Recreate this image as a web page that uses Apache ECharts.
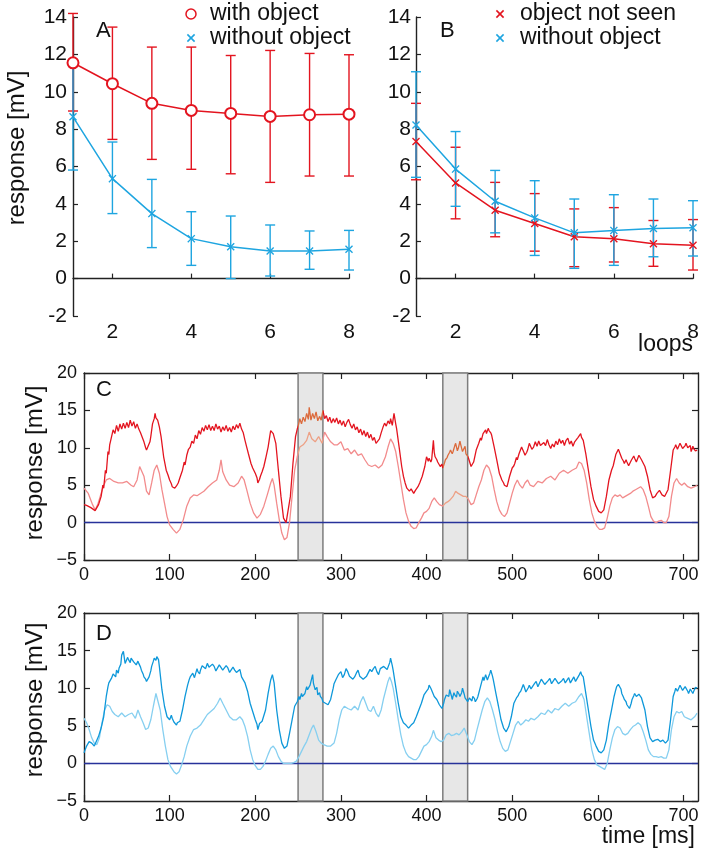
<!DOCTYPE html>
<html><head><meta charset="utf-8">
<script src="https://cdn.jsdelivr.net/npm/echarts@6/dist/echarts.min.js"></script>
<style>html,body{margin:0;padding:0;background:#fff}#c{width:702px;height:853px}</style>
</head><body><div id="c"></div>
<script>
// ---------- Panel A ----------
const loops = [1, 2, 3, 4, 5, 6, 7, 8];
const aWithMean = [11.55, 10.43, 9.38, 9.0, 8.84, 8.68, 8.77, 8.8];
const aWithLo   = [8.97, 7.45, 6.38, 5.85, 5.61, 5.15, 5.49, 5.49];
const aWithHi   = [14.19, 13.46, 12.39, 12.39, 11.94, 12.21, 12.05, 11.98];
const aWithoutMean = [8.66, 5.35, 3.48, 2.14, 1.71, 1.48, 1.48, 1.57];
const aWithoutLo   = [5.81, 3.48, 1.66, 0.71, 0.0, 0.14, 0.5, 0.46];
const aWithoutHi   = [11.55, 7.31, 5.31, 3.58, 3.35, 2.87, 2.55, 2.58];
// ---------- Panel B ----------
const bNotSeenMean = [7.34, 5.12, 3.66, 2.95, 2.24, 2.13, 1.87, 1.79];
const bNotSeenLo   = [5.29, 3.2, 2.24, 1.47, 0.64, 0.89, 0.66, 0.46];
const bNotSeenHi   = [9.38, 7.03, 5.15, 4.55, 3.73, 3.8, 3.11, 3.16];
const bWithoutMean = [8.22, 5.86, 4.14, 3.25, 2.45, 2.58, 2.68, 2.72];
const bWithoutLo   = [5.42, 3.87, 2.45, 1.24, 0.55, 0.71, 1.17, 1.21];
const bWithoutHi   = [11.07, 7.87, 5.79, 5.24, 4.26, 4.49, 4.26, 4.17];
const abXTicks = [2, 4, 6, 8];
// ---------- Panels C, D (time ms, response mV) ----------
const timeTicks = [0, 100, 200, 300, 400, 500, 600, 700];
const shadeWindows = [[250, 279], [419, 448]];
const cDark = [[0,2.4],[3,2.3],[5,2.1],[8,2.0],[10,1.8],[13,1.6],[15,1.8],[17,2.4],[20,3.5],[22,5],[23,4.6],[25,7],[26,6.6],[28,9.5],[29,9.1],[30,10.4],[32,11.4],[34,12.4],[36,11.9],[38,13.0],[40,12.2],[42,13.2],[44,12.5],[46,13.3],[48,12.6],[50,13.4],[52,12.7],[54,13.7],[56,12.9],[58,13.5],[60,12.6],[62,13.2],[64,12.5],[66,12.0],[68,11.4],[70,10.8],[72,10.0],[73,9.7],[75,9.9],[77,10.8],[78,11.5],[80,13.2],[82,13.9],[83,14.6],[84,14.0],[86,13.7],[88,12.8],[90,11.5],[93,8.8],[96,7],[98,6.4],[100,5.7],[102,5.2],[103,4.8],[105,5.0],[106,4.6],[108,4.9],[110,5.3],[112,6.0],[115,7],[117,8.1],[118,7.7],[120,9],[122,9.8],[124,10.1],[126,10.9],[128,10.6],[130,11.7],[132,11.2],[134,12.3],[136,11.8],[138,12.7],[140,12.2],[142,13.0],[144,12.4],[146,13.1],[148,12.3],[150,12.9],[152,12.3],[154,13.2],[156,12.5],[158,12.9],[160,12.1],[162,12.8],[164,12.3],[166,13.0],[168,12.2],[170,12.7],[172,12.1],[174,12.9],[176,12.4],[178,13.1],[180,12.6],[182,13.3],[184,12.5],[186,12.0],[188,11.0],[190,10.1],[192,9.2],[195,7.9],[197,7.3],[200,6.6],[202,6.0],[203,5.3],[205,5.8],[206,6.2],[208,6.8],[210,7.5],[212,8.5],[215,10.1],[217,11.6],[218,12.3],[220,12.2],[221,11.9],[224,10.6],[227,7],[230,3.5],[233,0.6],[236,0],[238,0.2],[241,3.5],[244,7.9],[247,11.5],[249,12.5],[250,12.8],[252,13.9],[254,13.2],[256,14.1],[258,13.5],[260,14.6],[262,13.8],[263,15.4],[265,13.7],[267,14.6],[269,13.9],[271,14.8],[273,13.6],[275,14.2],[277,13.7],[279,15],[281,13.9],[283,14.3],[285,13.5],[287,14.1],[289,13.3],[291,13.9],[293,13.4],[295,14.0],[297,13.2],[299,13.7],[301,13.0],[303,13.6],[305,12.8],[307,13.4],[309,13.8],[311,13.1],[313,12.6],[315,13.2],[317,12.4],[319,12.8],[321,12.0],[323,12.5],[325,11.7],[327,12.3],[329,11.5],[331,12.1],[333,11.3],[335,11.8],[337,11.0],[339,11.4],[341,10.6],[343,10.4],[345,11.2],[347,12.0],[349,12.7],[351,13.3],[353,12.9],[355,13.6],[357,13.2],[358,13.9],[360,13],[362,14.6],[364,13.2],[365,12.6],[368,10.1],[371,7.5],[373,6.2],[375,5.3],[377,4.6],[380,4.2],[382,4.5],[385,3.9],[387,4.3],[390,4.8],[392,5.3],[395,6.2],[398,7.5],[400,8.8],[402,8.2],[403,8.6],[405,8.1],[406,8.4],[408,11],[409,9.4],[410,8.8],[412,8.4],[413,8.1],[416,7.5],[418,7.8],[419,7.3],[421,8.0],[422,8.4],[424,8.7],[425,9],[427,9.4],[428,9.7],[430,9.2],[431,9.5],[433,10.3],[434,10.6],[436,9.6],[437,9.9],[439,10.9],[440,10.4],[442,9.5],[443,9.7],[445,10.2],[446,9.2],[448,8.9],[449,8.6],[452,7.5],[455,8.1],[458,9.7],[460,10.3],[461,10.6],[463,11.3],[464,11],[466,11.9],[467,11.7],[469,12.4],[470,11.9],[472,12.6],[473,12.3],[475,12.0],[476,11.7],[479,10.1],[482,8.4],[485,6.6],[488,5.7],[490,5.3],[491,5],[493,5.1],[494,4.8],[497,6.2],[500,7.3],[502,7.6],[503,7.9],[505,8.7],[506,8.4],[508,9.2],[509,9.5],[511,10.1],[512,9.9],[514,9.3],[515,9],[517,9.4],[518,9.7],[520,10.6],[521,10.4],[523,9.8],[525,10.1],[527,10.8],[529,10.2],[531,10.9],[533,10.3],[535,10.1],[537,10.7],[539,10.3],[541,11.1],[543,10.4],[545,9.9],[547,10.5],[549,10.1],[551,10.9],[553,10.4],[555,11.2],[557,10.6],[559,11.0],[561,10.3],[563,11.0],[565,11.3],[567,10.5],[569,10.9],[571,10.2],[573,10.8],[575,11.1],[577,11.4],[579,11.6],[580,11.9],[581,11.4],[583,11],[586,9.2],[589,7],[592,4.8],[595,3.1],[598,2.2],[601,1.5],[604,1.3],[607,1.7],[610,3.5],[613,5.7],[616,7],[618,7.6],[619,8.1],[621,9.1],[622,9],[624,9.8],[625,9.5],[627,8.9],[628,8.6],[630,8.2],[631,7.9],[633,8.4],[634,8.1],[636,7.6],[637,7.7],[639,8.3],[640,8.4],[642,8.9],[643,8.6],[645,8.1],[646,8.4],[648,9.0],[649,8.8],[651,8.4],[652,8.6],[655,7.5],[658,6.2],[661,4.4],[664,3.3],[667,3.5],[669,3.9],[670,3.9],[672,4.3],[673,4.2],[675,3.7],[676,3.9],[678,3.5],[679,3.7],[682,4.4],[685,7],[688,9.7],[690,10.1],[691,10.4],[693,9.8],[694,9.9],[696,10.6],[697,10.4],[699,9.9],[700,9.7],[702,10.3],[703,10.6],[705,10.0],[706,9.9],[708,10.3],[709,9.5],[711,10.2],[712,9.9],[714,9.6],[716,9.7]];
const cLight = [[0,4.6],[5,3.9],[10,2.4],[13,1.7],[16,2.4],[20,3.9],[23,5],[26,5.7],[30,5.9],[35,5.5],[40,5.3],[45,5.3],[50,5.5],[55,5],[58,4.8],[62,5.7],[65,7.5],[67,7.7],[70,6.2],[73,4.2],[76,3.7],[79,5.3],[82,7],[85,7.7],[88,6.6],[91,4.4],[94,2.6],[97,0.8],[100,-0.3],[104,-0.9],[108,-1.4],[112,-0.9],[116,0.4],[120,2.2],[124,3.3],[128,3.7],[132,3.6],[136,3.9],[140,4.2],[145,4.8],[150,5.3],[155,5.7],[158,7],[160,8.4],[162,6.8],[166,5.7],[170,5],[175,4.8],[180,5.3],[184,6.2],[187,5.7],[190,4.4],[194,2.6],[198,1.3],[202,0.6],[206,1.1],[210,2.2],[214,3.7],[218,5.3],[220,5.9],[222,5],[225,2.6],[228,0.4],[231,-1.4],[234,-2.3],[237,-2],[240,0],[243,3.5],[246,7],[249,8.8],[252,10.1],[256,10.4],[260,11],[263,12.1],[266,11.2],[270,10.8],[274,11.5],[278,10.6],[281,12.1],[284,11.5],[288,10.8],[292,10.4],[296,10.4],[300,10.8],[304,9.7],[308,9.9],[312,9.2],[316,9.7],[320,9],[324,9.2],[328,8.4],[332,7.7],[336,7.5],[340,7.7],[344,7.3],[348,7.7],[352,8.8],[355,10.1],[358,11.2],[361,10.6],[364,9.5],[367,7.5],[370,5.3],[373,3.1],[376,1.3],[379,0.2],[382,-0.5],[385,-0.8],[388,-0.7],[391,0],[394,0.6],[397,1.3],[400,1.5],[403,1.9],[406,2.8],[409,3.3],[412,2.8],[415,2.4],[419,2.2],[422,2.6],[425,2.8],[428,3.1],[431,3.5],[434,4.2],[437,3.9],[440,3.7],[443,3.5],[446,3.5],[449,3.1],[452,2.4],[455,2.6],[458,3.7],[461,4.8],[464,5.7],[467,7],[470,7.7],[473,7.3],[476,6.2],[479,4.4],[482,2.8],[485,1.7],[488,1.1],[491,0.8],[494,1.3],[497,2.6],[500,3.9],[503,5],[506,5.7],[509,5],[512,4.6],[515,5.3],[518,5.7],[521,5],[525,4.8],[530,5.5],[535,5.3],[540,5.9],[545,6.2],[550,5.7],[555,6.6],[560,7],[565,6.6],[570,7],[575,7.3],[578,8.1],[581,7.9],[584,7],[587,5.3],[590,3.1],[593,1.3],[596,0.2],[599,-0.5],[602,-0.9],[605,-0.9],[608,-0.7],[611,0.6],[614,2.2],[617,3.3],[620,3.7],[623,3.5],[626,3.7],[629,3.3],[632,3.5],[635,3.7],[638,3.9],[641,4.2],[644,4.4],[647,4.6],[650,4.8],[653,4.4],[656,3.5],[659,2.2],[662,0.8],[665,0.2],[668,0],[671,0.2],[674,0.3],[677,0],[680,0],[683,0.8],[686,3.5],[689,5.3],[692,5.9],[695,5.3],[698,5],[701,5.3],[705,4.8],[709,4.6],[713,4.8],[716,5]];
const dDark = [[0,1.4],[3,2.3],[6,2.9],[9,2.7],[12,2.3],[14,2.2],[17,3.6],[20,4.7],[23,6.2],[26,8.9],[28,10.2],[29,10.7],[31,10.9],[32,11.3],[34,11.9],[35,11.8],[37,11.5],[38,12.4],[40,12.0],[41,12.7],[43,13.2],[44,14.4],[46,14.9],[48,13.3],[49,13.1],[51,14.1],[52,13.8],[54,13.4],[55,14],[57,14.2],[58,13.5],[60,13.7],[61,13.1],[63,13.6],[64,13.3],[66,12.8],[67,12.4],[69,11.9],[70,11.5],[72,11.2],[73,10.9],[75,11.1],[76,11.5],[78,12.3],[79,12.9],[81,13.6],[82,14],[84,13.7],[85,14.2],[87,13.8],[88,12.9],[91,9.8],[94,7.6],[97,6.2],[99,6.1],[100,5.8],[102,6.4],[103,6],[105,5.5],[106,5.6],[108,5.1],[109,5.4],[111,5.2],[112,5.6],[115,7.1],[118,8.9],[120,9.9],[121,10.4],[123,11.2],[124,11.5],[126,11.6],[127,12],[129,11.4],[130,11.8],[132,12.6],[133,12.2],[135,11.9],[136,12.4],[138,13.0],[140,13.1],[142,12.6],[144,13.3],[146,12.8],[148,12.7],[150,13.2],[152,12.9],[154,12.3],[156,12.4],[158,13.1],[160,12.9],[162,12.4],[164,12.4],[166,13.0],[168,12.7],[170,12.1],[172,12.2],[174,12.8],[176,12.4],[178,12.1],[180,12],[182,12.5],[184,11.5],[186,11.3],[188,10.7],[191,9.6],[194,8],[197,6.9],[200,5.8],[202,5.2],[203,4.5],[205,5.3],[206,5.1],[208,5.6],[209,5.8],[212,7.1],[215,9.3],[218,11.1],[220,11.8],[222,10.7],[225,7.1],[228,4.5],[231,2.7],[234,2],[237,2.3],[240,4],[243,5.8],[246,7.6],[249,8.2],[251,8.9],[252,8.5],[254,9.3],[255,8.9],[257,9.0],[258,9.3],[260,10.2],[261,9.8],[263,9.6],[264,10.4],[266,10.3],[267,11.8],[268,10.6],[270,9.8],[272,10.1],[273,9.1],[275,9.4],[276,8.9],[278,8.6],[279,8.2],[281,8.4],[282,8],[284,8.2],[285,7.8],[288,8.5],[291,10],[292,10.6],[294,11.1],[296,11.3],[297,11.8],[299,11.6],[300,12.2],[302,11.4],[304,11.8],[306,12.6],[308,12.2],[310,11.6],[312,11.8],[314,11.2],[316,11.5],[318,12.0],[320,12.4],[322,11.6],[324,11.8],[326,11.2],[328,11.1],[330,11.6],[332,11.8],[334,12.5],[336,12.2],[338,12.6],[340,12.9],[342,12.2],[344,11.8],[346,12.6],[348,12.4],[350,12.9],[352,12.9],[354,12.5],[355,12.7],[357,13.4],[358,14],[360,13.0],[361,12.4],[364,10.2],[367,8],[370,6.2],[373,5.4],[376,5.1],[379,4.7],[382,5.1],[385,5.4],[388,6.2],[391,7.1],[394,8],[397,9.1],[400,9.6],[402,9.9],[403,10.4],[405,10.0],[406,9.8],[409,8.9],[412,8.5],[415,7.8],[418,7.3],[420,8.0],[421,8.5],[423,9.1],[424,9.3],[426,8.9],[427,9.8],[429,9.0],[430,8.5],[432,9.4],[433,9.1],[435,8.8],[436,9.6],[438,9.2],[439,8.9],[441,9.4],[442,10],[444,9.2],[445,8.7],[447,8.9],[448,8.2],[450,8.7],[451,8.5],[453,8.3],[454,8.9],[456,8.6],[457,8.2],[459,8.6],[460,8.9],[463,10.2],[466,11.5],[467,11.0],[469,11.8],[471,11.1],[472,11.3],[474,12.0],[475,12.4],[477,11.6],[478,11.1],[481,9.3],[484,7.6],[487,5.8],[490,4.7],[493,4.2],[496,4.9],[499,6.2],[502,8],[505,8.7],[507,9.0],[508,9.3],[510,9.6],[511,9.8],[513,10.5],[514,10.2],[516,9.5],[517,9.6],[519,10.1],[520,10.4],[522,9.9],[524,10],[526,10.6],[528,10.9],[530,10.2],[532,10.4],[534,11.2],[536,11.1],[538,10.5],[540,10.4],[542,11.0],[544,11.3],[546,10.6],[548,10.7],[550,11.3],[552,11.1],[554,10.6],[556,10.4],[558,11.0],[560,11.3],[562,10.7],[564,10.9],[566,11.4],[568,10.7],[570,11.1],[572,11.5],[574,10.9],[576,11.1],[578,11.7],[580,12.2],[581,11.8],[583,11.5],[586,9.3],[589,7.1],[592,4.9],[595,3.1],[598,2.3],[601,1.6],[604,1.4],[607,1.8],[610,3.1],[613,5.4],[616,7.1],[619,8.9],[621,9.8],[622,10.2],[624,10.5],[625,10.7],[627,9.9],[628,9.3],[630,8.8],[631,8.5],[633,8.2],[634,7.8],[636,7.6],[637,7.3],[639,8.0],[640,8.5],[642,9.0],[643,9.3],[645,8.9],[646,8.7],[648,9.2],[649,9.1],[651,8.7],[652,8.9],[655,7.1],[658,4.9],[661,3.4],[664,2.9],[667,3.1],[670,3.2],[673,2.9],[676,3.1],[679,2.7],[682,3.1],[685,5.8],[688,8.9],[690,9.6],[691,10],[693,9.6],[694,9.8],[696,10.4],[697,10.2],[699,9.7],[700,9.6],[702,10.2],[703,10],[705,9.6],[706,9.3],[708,9.9],[709,9.8],[711,9.3],[712,9.6],[714,10.1],[716,10]];
const dLight = [[0,6],[3,5.4],[6,4.5],[9,3.4],[12,2.7],[15,2.5],[18,3.4],[21,5.4],[24,7.1],[27,7.8],[30,7.6],[33,6.9],[36,6.5],[40,6.2],[44,6.7],[48,6.2],[52,6.5],[56,6.7],[60,6],[63,7.1],[66,6.2],[69,5.4],[72,4.5],[75,4.7],[78,5.8],[81,7.6],[84,9.3],[86,9.1],[89,7.1],[92,4.5],[95,2.3],[98,0.5],[101,-0.4],[105,-1.1],[108,-1.4],[111,-1.1],[114,-0.2],[117,0.9],[120,2.3],[124,3.6],[128,4.5],[132,4.7],[136,5.1],[140,5.8],[144,6.5],[148,6.9],[152,7.3],[156,8],[159,8.7],[162,8],[166,7.1],[170,6.2],[174,5.8],[178,5.8],[182,6.2],[185,5.8],[188,4.9],[191,3.6],[194,1.8],[197,0.5],[200,-0.3],[203,-0.8],[206,-0.8],[209,-0.4],[212,0.3],[215,1.2],[218,2],[221,2.3],[224,1.8],[227,0.9],[230,0.3],[233,0],[236,0],[239,0],[242,0],[245,0.1],[248,0.3],[251,0.9],[254,1.6],[257,2.3],[260,2.9],[263,3.8],[266,4.7],[268,5.1],[271,4.2],[274,3.1],[277,2.7],[280,2.5],[284,2.3],[288,2.3],[292,2.7],[295,4],[298,5.8],[301,7.1],[304,7.6],[308,7.3],[312,7.1],[316,7.6],[320,7.1],[323,8.2],[326,8.9],[329,8],[332,7.1],[335,6.9],[338,7.6],[341,6.7],[344,6.2],[347,7.1],[350,8.7],[355,10.9],[357,11.5],[359,10.9],[361,10],[364,8],[367,5.8],[370,3.8],[373,2.3],[376,1.4],[379,0.9],[382,0.7],[385,0.5],[388,0.5],[391,0.9],[394,1.6],[397,2.3],[400,2.5],[403,2.9],[406,3.6],[408,4.4],[411,3.4],[414,3.1],[417,2.9],[420,3.1],[423,3.8],[426,4],[429,3.7],[432,3.8],[435,4],[438,3.8],[441,4.2],[444,4.7],[447,3.8],[450,2.9],[453,2.5],[456,3.1],[459,4.5],[462,5.8],[465,7.1],[468,8.2],[471,8.7],[474,8.2],[477,7.1],[480,5.8],[483,4.2],[486,2.9],[489,2],[492,1.6],[495,1.8],[498,2.9],[501,4],[504,5.1],[507,5.6],[510,5.1],[513,5.4],[516,5.8],[519,5.6],[522,6],[526,5.8],[530,6.2],[534,6.7],[538,6.5],[542,7.1],[546,6.7],[550,7.3],[554,7.1],[558,7.6],[562,8],[566,7.6],[570,8],[574,8.2],[578,8.9],[581,9.3],[584,8.5],[587,6.2],[590,4],[593,1.8],[596,0.5],[599,-0.2],[602,-0.4],[605,-0.6],[608,-0.8],[611,0],[614,1.8],[617,3.4],[620,4.5],[623,4.9],[626,4.7],[629,4],[632,3.8],[635,4],[638,4.5],[641,4.9],[644,5.1],[647,5.4],[650,5.1],[653,4.2],[656,3.1],[659,1.8],[662,1.2],[665,0.9],[668,0.9],[671,0.8],[674,0.9],[677,0.7],[680,0.7],[683,1.8],[686,4.5],[689,6.2],[692,6.9],[695,6.7],[698,6.9],[701,6.2],[705,6],[709,5.8],[713,6.2],[716,6.7]];
const timeMax = 717;

// ---------- styling ----------
const RED = '#e3141f', CYAN = '#1ea5e0';
const LRED = '#f28b8c', ORANGE = '#dc6a3c', LORANGE = '#eda085';
const DBLUE = '#0e98da', LBLUE = '#86cff0', NAVY = '#27329a';
const FONT = '"Liberation Sans", Arial, sans-serif';
const AX = '#222';
const CROSS = 'path://M0,1.2L1.2,0L5,3.8L8.8,0L10,1.2L6.2,5L10,8.8L8.8,10L5,6.2L1.2,10L0,8.8L3.8,5Z';

function errRender(color) {
  return function (params, api) {
    const x = api.value(0), lo = api.value(1), hi = api.value(2);
    const a = api.coord([x, lo]), b = api.coord([x, hi]);
    const w = 5, st = { stroke: color, lineWidth: 1.4 };
    return { type: 'group', children: [
      { type: 'line', shape: { x1: a[0], y1: a[1], x2: b[0], y2: b[1] }, style: st },
      { type: 'line', shape: { x1: a[0] - w, y1: a[1], x2: a[0] + w, y2: a[1] }, style: st },
      { type: 'line', shape: { x1: b[0] - w, y1: b[1], x2: b[0] + w, y2: b[1] }, style: st }
    ]};
  };
}
function errSeries(lo, hi, color, axis, z) {
  return { type: 'custom', xAxisIndex: axis, yAxisIndex: axis, z: z, clip: false,
    renderItem: errRender(color), encode: { x: 0, y: [1, 2] },
    data: loops.map((x, i) => [x, lo[i], hi[i]]) };
}
function meanSeries(name, mean, color, symbol, size, axis, z) {
  const circ = symbol === 'emptyCircle';
  return { type: 'line', name: name, xAxisIndex: axis, yAxisIndex: axis, z: z,
    data: loops.map((x, i) => [x, mean[i]]), symbol: symbol, symbolSize: size, showAllSymbol: true,
    lineStyle: { color: color, width: 1.5 },
    itemStyle: { color: color, borderColor: color, borderWidth: circ ? 1.5 : 0 },
    emphasis: { disabled: true }, animation: false };
}
function abXAxis(grid) {
  return { type: 'value', gridIndex: grid, min: 1, max: 8,
    axisLine: { lineStyle: { color: AX, width: 1.4 } },
    axisTick: { inside: true, length: 5, customValues: abXTicks, lineStyle: { color: AX, width: 1.2 } },
    axisLabel: { customValues: abXTicks, fontSize: 21, fontFamily: FONT, color: '#111', margin: 6 },
    splitLine: { show: false } };
}
function abYAxis(grid, margin) {
  return { type: 'value', gridIndex: grid, min: -2, max: 14, interval: 2,
    axisLine: { show: true, lineStyle: { color: AX, width: 1.4 } },
    axisTick: { show: true, inside: true, length: 5, lineStyle: { color: AX, width: 1.2 } },
    axisLabel: { fontSize: 21, fontFamily: FONT, color: '#111', margin: margin },
    splitLine: { show: false } };
}
function tXAxis(grid, pos, labels) {
  return { type: 'value', gridIndex: grid, position: pos, min: 0, max: timeMax,
    axisLine: { show: true, onZero: false, lineStyle: { color: AX, width: 1.4 } },
    axisTick: { show: true, inside: true, length: 6, customValues: timeTicks, lineStyle: { color: AX, width: 1.2 } },
    axisLabel: { show: labels, customValues: timeTicks, fontSize: 18, fontFamily: FONT, color: '#111', margin: 6 },
    splitLine: { show: false } };
}
function tYAxis(grid, pos, labels) {
  return { type: 'value', gridIndex: grid, position: pos, min: -5, max: 20, interval: 5,
    axisLine: { show: true, onZero: false, lineStyle: { color: AX, width: 1.4 } },
    axisTick: { show: true, inside: true, length: 6, lineStyle: { color: AX, width: 1.2 } },
    axisLabel: { show: labels, fontSize: 18, fontFamily: FONT, color: '#111', margin: 7,
      formatter: v => v < 0 ? '\u2212' + Math.abs(v) : String(v) },
    splitLine: { show: false } };
}
function baseSeries(axisX, axisY) {
  return { type: 'line', xAxisIndex: axisX, yAxisIndex: axisY, z: 2, symbol: 'none',
    data: [[0, 0], [timeMax, 0]], lineStyle: { color: NAVY, width: 1.5 }, silent: true,
    markArea: { silent: true, z: 1,
      itemStyle: { color: '#e7e7e7', borderColor: '#7d7d7d', borderWidth: 1.5 },
      data: shadeWindows.map(w => [{ xAxis: w[0] }, { xAxis: w[1] }]) } };
}
function traceSeries(data, color, width, axisX, axisY, z) {
  const ls = { width: width };
  if (color) ls.color = color;
  return { type: 'line', xAxisIndex: axisX, yAxisIndex: axisY, z: z, symbol: 'none', data: data,
    lineStyle: ls, silent: true, animation: false };
}

const chart = echarts.init(document.getElementById('c'), null, { renderer: 'canvas' });
const series = [
  errSeries(aWithLo, aWithHi, RED, 0, 3),
  errSeries(aWithoutLo, aWithoutHi, CYAN, 0, 3),
  meanSeries('with object', aWithMean, RED, 'emptyCircle', 11, 0, 4),
  meanSeries('without object', aWithoutMean, CYAN, CROSS, 8, 0, 4),
  errSeries(bNotSeenLo, bNotSeenHi, RED, 1, 3),
  errSeries(bWithoutLo, bWithoutHi, CYAN, 1, 3),
  meanSeries('object not seen', bNotSeenMean, RED, CROSS, 8, 1, 4),
  meanSeries('without object', bWithoutMean, CYAN, CROSS, 8, 1, 4),
  baseSeries(2, 2),                              // 8
  traceSeries(cDark, null, 1.3, 2, 2, 4),        // 9  (coloured by visualMap)
  traceSeries(cLight, null, 1.3, 2, 2, 3),       // 10 (coloured by visualMap)
  baseSeries(4, 4),                              // 11
  traceSeries(dDark, DBLUE, 1.3, 4, 4, 4),       // 12
  traceSeries(dLight, LBLUE, 1.3, 4, 4, 3)       // 13
];

function txt(x, y, text, size, align, rot) {
  return { type: 'text', x: x, y: y, rotation: rot || 0, silent: true,
    style: { text: text, fontSize: size, fontFamily: FONT, fill: '#111', align: align || 'left', verticalAlign: 'middle' } };
}
function crossG(cx, cy, color) {
  const r = 3.6;
  return [
    { type: 'line', silent: true, shape: { x1: cx - r, y1: cy - r, x2: cx + r, y2: cy + r }, style: { stroke: color, lineWidth: 1.6 } },
    { type: 'line', silent: true, shape: { x1: cx - r, y1: cy + r, x2: cx + r, y2: cy - r }, style: { stroke: color, lineWidth: 1.6 } }
  ];
}

chart.setOption({
  animation: false,
  backgroundColor: '#fff',
  grid: [
    { left: 73, top: 17, width: 276, height: 299, outerBoundsMode: 'none' },
    { left: 416, top: 17, width: 277, height: 299, outerBoundsMode: 'none' },
    { left: 84, top: 373, width: 614, height: 187, outerBoundsMode: 'none' },
    { left: 84, top: 613, width: 614, height: 188, outerBoundsMode: 'none' }
  ],
  xAxis: [ abXAxis(0), abXAxis(1), tXAxis(2, 'bottom', true), tXAxis(2, 'top', false), tXAxis(3, 'bottom', true), tXAxis(3, 'top', false) ],
  yAxis: [ abYAxis(0, 6), abYAxis(1, 5), tYAxis(2, 'left', true), tYAxis(2, 'right', false), tYAxis(3, 'left', true), tYAxis(3, 'right', false) ],
  visualMap: [
    { type: 'piecewise', show: false, seriesIndex: 9, dimension: 0,
      pieces: [{ lt: 250, color: RED }, { gte: 250, lte: 279, color: ORANGE }, { gt: 279, lt: 419, color: RED },
               { gte: 419, lte: 448, color: ORANGE }, { gt: 448, color: RED }] },
    { type: 'piecewise', show: false, seriesIndex: 10, dimension: 0,
      pieces: [{ lt: 250, color: LRED }, { gte: 250, lte: 279, color: LORANGE }, { gt: 279, lt: 419, color: LRED },
               { gte: 419, lte: 448, color: LORANGE }, { gt: 448, color: LRED }] }
  ],
  series: series,
  graphic: [
    txt(17, 148, 'response [mV]', 24, 'center', Math.PI / 2),
    txt(35, 463, 'response [mV]', 24, 'center', Math.PI / 2),
    txt(35, 700, 'response [mV]', 24, 'center', Math.PI / 2),
    txt(96, 31, 'A', 22),
    txt(440, 31, 'B', 22),
    txt(96, 390, 'C', 22),
    txt(96, 634, 'D', 22),
    { type: 'circle', silent: true, shape: { cx: 191, cy: 14, r: 5 }, style: { fill: 'none', stroke: RED, lineWidth: 1.5 } },
    txt(210, 14, 'with object', 23),
    ...crossG(191, 38, CYAN),
    txt(210, 38, 'without object', 23),
    ...crossG(500, 14, RED),
    txt(520, 14, 'object not seen', 23),
    ...crossG(500, 38, CYAN),
    txt(520, 38, 'without object', 23),
    txt(693, 345, 'loops', 23, 'right'),
    txt(695, 837, 'time [ms]', 23, 'right')
  ]
});
</script></body></html>
